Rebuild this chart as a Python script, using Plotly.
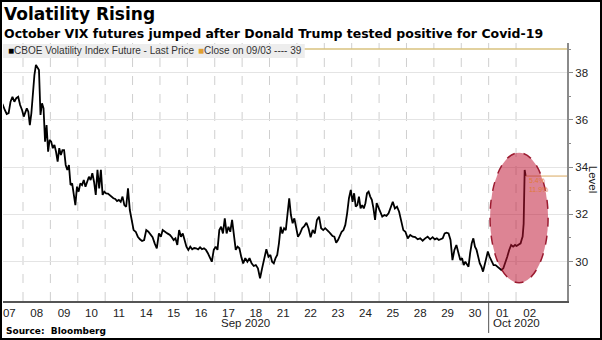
import plotly.graph_objects as go

# ---------------- data ----------------
day_labels = ["07", "08", "09", "10", "11", "14", "15", "16", "17", "18",
              "21", "22", "23", "24", "25", "28", "29", "30", "01", "02"]
month_labels = ["Sep 2020", "Oct 2020"]
oct_first_day = 18          # index of 01 Oct in day_labels

# intraday prices of the October VIX future, one list per trading day
vix_by_day = [
    [36.56, 36.63, 36.42, 36.25, 36.29, 36.77, 36.98, 36.77, 36.92, 36.98, 36.63, 36.42],
    [36.14, 36.35, 36.49, 36.35, 35.78, 36.28, 37.19, 37.90, 38.33, 38.19, 38.11, 36.21,
     36.70, 36.49, 35.08, 35.78, 34.65, 35.15],
    [35.08, 34.80, 34.94, 34.65, 34.23, 34.80, 34.51, 34.72, 34.72, 34.09, 33.88, 34.09,
     33.24, 33.31, 32.82, 32.39, 33.17],
    [32.96, 33.31, 33.24, 33.45, 33.17, 33.38, 33.59, 33.45, 33.74, 33.38, 32.82, 33.88,
     33.10, 33.88, 32.82, 32.96],
    [32.89, 32.88, 32.82, 32.73, 32.68, 32.65, 32.56, 32.61, 32.53, 32.75, 32.39, 32.32,
     33.10, 32.18, 31.69],
    [31.33, 31.26, 31.05, 30.94, 30.87, 30.91, 31.33, 31.26, 31.12, 31.03, 30.77, 30.56, 31.19],
    [31.05, 31.33, 31.29, 31.22, 31.17, 31.12, 31.03, 30.91, 30.98, 30.70, 31.33, 31.05,
     31.19, 30.94, 30.63],
    [30.49, 30.63, 30.52, 30.57, 30.56, 30.51, 30.60, 30.52, 30.56, 30.49, 30.35, 30.14,
     29.99, 30.49],
    [30.63, 30.49, 31.33, 31.47, 31.19, 31.83, 31.19, 31.47, 31.26, 31.76, 31.12, 30.49,
     30.63, 30.56, 30.20],
    [29.92, 30.14, 29.99, 30.14, 29.92, 29.81, 29.85, 29.71, 29.29, 29.72, 30.06, 30.52, 30.20],
    [30.28, 29.99, 29.92, 30.14, 30.28, 30.77, 31.47, 31.19, 31.41, 31.33, 31.97, 32.68,
     31.97, 31.62, 31.83, 31.41],
    [31.05, 31.19, 31.41, 31.50, 31.64, 31.41, 31.03, 31.33, 31.19, 31.76, 31.90, 31.41, 31.33],
    [31.41, 31.31, 31.26, 31.17, 31.08, 31.05, 30.80, 30.91, 31.08, 31.26, 31.33, 31.55,
     32.04, 32.68, 33.03],
    [32.53, 32.89, 32.32, 32.39, 32.75, 32.25, 32.39, 32.25, 32.47, 32.89, 32.96, 32.75,
     32.61, 32.25, 31.76, 32.47, 32.32],
    [32.11, 31.90, 31.97, 31.93, 32.04, 32.32, 32.53, 32.25, 32.32, 32.11, 31.76, 31.33, 31.26],
    [30.98, 31.12, 31.05, 31.03, 30.94, 30.98, 30.88, 30.98, 31.05, 30.94, 31.03],
    [30.94, 30.98, 30.91, 30.94, 30.98, 31.19, 31.22, 31.19, 30.91, 30.06, 30.49, 30.70,
     30.35, 30.06],
    [30.14, 29.85, 29.99, 29.85, 29.78, 30.35, 30.77, 30.98, 30.63, 30.49, 30.20, 29.92,
     29.78, 29.57, 29.85, 30.14, 30.42],
    [30.20, 29.99, 29.85, 29.85, 29.78, 29.71, 29.64, 29.71, 29.92, 30.20, 30.49, 30.70,
     30.63, 30.70],
    [30.66, 30.68, 30.70, 30.73, 30.77, 30.92, 31.06, 31.60, 33.88, 33.62],
]
first_session_start = 0.16   # fraction of day 0 where the visible series begins
last_session_end = 0.37      # fraction of the last day elapsed at snapshot
close_0903 = 39
pct_labels = ["5.4%", "11.9%"]
pct_values = [33.45, 33.07]

# ---------------- build series ----------------
xs, ys = [], []
n_days = len(vix_by_day)
for i, vals in enumerate(vix_by_day):
    start = first_session_start if i == 0 else i
    end = i + last_session_end if i == n_days - 1 else i + 1
    n = len(vals)
    for k, v in enumerate(vals):
        xs.append(start + (k + 0.5) * (end - start) / n)
        ys.append(v)

x_range = [0.27, 20.86]
y_range = [28.326, 39.258]

fig = go.Figure()
fig.add_trace(go.Scatter(x=xs, y=ys, mode="lines",
                         line=dict(color="black", width=1.8), hoverinfo="skip",
                         showlegend=False))

FONT_T = "DejaVu Sans"
FONT = "Liberation Sans"

fig.update_layout(
    width=602, height=340,
    margin=dict(l=3, r=35, t=43, b=39),
    paper_bgcolor="white", plot_bgcolor="white",
    showlegend=False,
    xaxis=dict(
        range=x_range, tickmode="array",
        tickvals=[i + 0.5 for i in range(len(day_labels))], ticktext=day_labels,
        showgrid=False, zeroline=False,
        showline=True, linecolor="#555555", linewidth=1.5,
        ticks="", tickfont=dict(family=FONT, size=11.5, color="#222222"),
    ),
    yaxis=dict(
        range=y_range, side="right", tick0=30, dtick=2,
        showgrid=True, gridcolor="#e4e4e4", gridwidth=1, zeroline=False,
        showline=True, linecolor="#8a8a8a", linewidth=2,
        ticks="outside", ticklen=4, tickcolor="#8a8a8a", tickwidth=1,
        tickfont=dict(family=FONT, size=11.5, color="#222222"),
        minor=dict(dtick=1, ticks="outside", ticklen=2, tickcolor="#8a8a8a", showgrid=False),
    ),
)

shapes = []
# vertical dashed day-boundary gridlines
for b in range(1, len(day_labels)):
    shapes.append(dict(type="line", xref="x", yref="paper", x0=b, x1=b, y0=0, y1=1,
                       line=dict(color="#cfcfcf", width=1, dash="dash"), layer="below"))
# close on 09/03 reference line
shapes.append(dict(type="line", xref="paper", yref="y", x0=0, x1=1,
                   y0=close_0903, y1=close_0903,
                   line=dict(color="#d8c27e", width=1.5), layer="above"))
# legend band
shapes.append(dict(type="rect", xref="paper", yref="paper", x0=0, x1=0.535,
                   y0=0.942, y1=0.996, fillcolor="#ededed", line=dict(width=0),
                   layer="above"))
# last price line
shapes.append(dict(type="line", xref="x", yref="y", x0=xs[-1], x1=x_range[1],
                   y0=ys[-1], y1=ys[-1], line=dict(color="#d9a860", width=1),
                   layer="above"))
# highlight ellipse
shapes.append(dict(type="circle", xref="x", yref="y", x0=18.05, x1=20.17,
                   y0=29.10, y1=34.61, fillcolor="rgba(190,20,50,0.52)",
                   line=dict(color="#9b1b30", width=1.5, dash="dash"), layer="above"))
# month separator
shapes.append(dict(type="line", xref="x", yref="paper", x0=oct_first_day, x1=oct_first_day,
                   y0=-0.124, y1=0, line=dict(color="#555555", width=1)))
# outer frame
shapes.append(dict(type="rect", xref="paper", yref="paper", x0=-3 / 564, x1=599 / 564,
                   y0=-39 / 258, y1=301 / 258, line=dict(color="black", width=4),
                   fillcolor="rgba(0,0,0,0)"))
fig.update_layout(shapes=shapes)

ann = []
ann.append(dict(text="<b>Volatility Rising</b>", xref="paper", yref="paper", x=0, y=1.112,
                xanchor="left", yanchor="middle", showarrow=False, xshift=-1,
                font=dict(family=FONT_T, size=17, color="black")))
ann.append(dict(text="<b>October VIX futures jumped after Donald Trump tested positive for Covid-19</b>",
                xref="paper", yref="paper", x=0, y=1.035, xanchor="left", yanchor="middle",
                showarrow=False, xshift=-1,
                font=dict(family=FONT_T, size=12.5, color="black")))
ann.append(dict(text="<span style='color:#000'>■</span>CBOE Volatility Index Future - Last Price",
                xref="paper", yref="paper", x=0.006, y=0.969, xanchor="left", yanchor="middle",
                showarrow=False, font=dict(family=FONT, size=10, color="#333333")))
ann.append(dict(text="<span style='color:#e0a030'>■</span>Close on 09/03 ---- " + str(close_0903),
                xref="paper", yref="paper", x=(196 - 3) / 564, y=0.969, xanchor="left",
                yanchor="middle", showarrow=False,
                font=dict(family=FONT, size=10, color="#333333")))
sep_center = (x_range[0] + oct_first_day) / 2
oct_center = (oct_first_day + len(day_labels)) / 2
for lab, cx in zip(month_labels, [sep_center, oct_center]):
    ann.append(dict(text=lab, xref="x", yref="paper", x=cx, y=-0.085, xanchor="center",
                    yanchor="middle", showarrow=False,
                    font=dict(family=FONT, size=11.5, color="#222222")))
ann.append(dict(text="<b>Source:  Bloomberg</b>", xref="paper", yref="paper", x=0, y=-0.116,
                xanchor="left", yanchor="middle", showarrow=False, xshift=1,
                font=dict(family=FONT_T, size=9, color="black")))
ann.append(dict(text="Level", xref="paper", yref="paper", x=1.046, y=0.47, textangle=90,
                xanchor="center", yanchor="middle", showarrow=False,
                font=dict(family=FONT, size=11.5, color="#222222")))
for lab, v in zip(pct_labels, pct_values):
    ann.append(dict(text=lab, xref="x", yref="y", x=xs[-1] + 0.05, y=v, xanchor="left",
                    yanchor="middle", showarrow=False,
                    font=dict(family=FONT, size=7, color="#e07a3a")))
fig.update_layout(annotations=ann)

fig.write_html("out.html")
